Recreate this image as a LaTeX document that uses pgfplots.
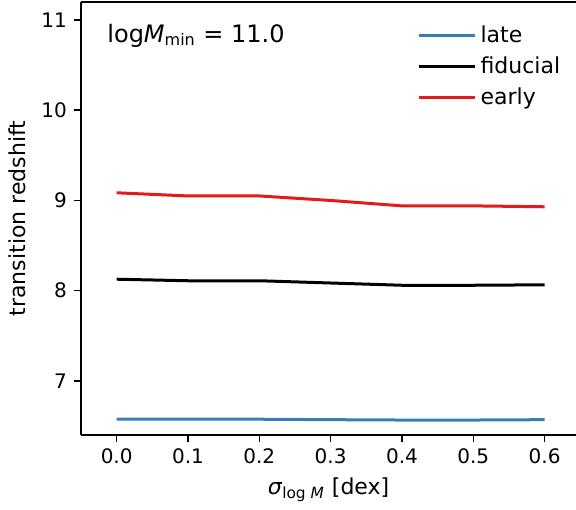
\documentclass[border=0pt]{standalone}
\usepackage{fontspec}
\setmainfont{DejaVu Sans}
\usepackage{pgfplots}
\pgfplotsset{compat=1.18}
\definecolor{cblue}{HTML}{377EB8}
\definecolor{cred}{HTML}{E41A1C}
\begin{document}
\begin{tikzpicture}
\begin{axis}[
  name=ax,
  scale only axis,
  width=247.5pt, height=216.5pt,
  xmin=-0.05, xmax=0.644,
  ymin=6.4, ymax=11.2,
  axis x line=box, axis y line*=left,
  axis line style={line width=0.8pt},
  xtick={0,0.1,0.2,0.3,0.4,0.5,0.6},
  ytick={7,8,9,10,11},
  tick align=outside, tick pos=left,
  major tick length=3.5pt,
  every tick/.style={line width=0.8pt, black},
  xticklabel style={/pgf/number format/.cd, fixed, fixed zerofill, precision=1, assume math mode=true},
  yticklabel style={/pgf/number format/assume math mode=true},
  tick label style={font=\fontsize{10}{12}\selectfont},
  xlabel={\fontsize{11}{13}\selectfont\textit{σ}\textsubscript{log \textit{M}} [dex]},
  ylabel={\fontsize{11}{13}\selectfont transition redshift},
  ylabel style={yshift=1pt},
  legend style={at={(0.985,0.964)}, anchor=north east, draw=none, fill=none,
    font=\fontsize{11}{13}\selectfont, row sep=1.5pt, inner sep=2pt},
  legend cell align=left,
  legend image code/.code={\draw[#1] (0pt,0pt) -- (24pt,0pt); \path (24pt,0pt) -- (28pt,0pt);},
]
\addplot[cblue, line width=1.5pt] coordinates {(0.0,6.575) (0.1,6.575) (0.2,6.575) (0.3,6.57) (0.4,6.566) (0.5,6.566) (0.6,6.57)};
\addlegendentry{late}
\addplot[black, line width=1.5pt] coordinates {(0.0,8.127) (0.1,8.11) (0.2,8.11) (0.3,8.085) (0.4,8.06) (0.5,8.06) (0.6,8.065)};
\addlegendentry{fiducial}
\addplot[cred, line width=1.5pt] coordinates {(0.0,9.085) (0.1,9.05) (0.2,9.05) (0.3,9.0) (0.4,8.94) (0.5,8.94) (0.6,8.93)};
\addlegendentry{early}
\node[anchor=base west, inner sep=0pt, font=\fontsize{12}{14}\selectfont] at (rel axis cs:0.0525,0.9076) {log\textit{M}\textsubscript{min} = 11.0};
\end{axis}
\pgfresetboundingbox
\path[use as bounding box] (ax.south west) ++(-40.5pt,-37pt) rectangle ++(288pt,254.5pt);
\end{tikzpicture}
\end{document}
